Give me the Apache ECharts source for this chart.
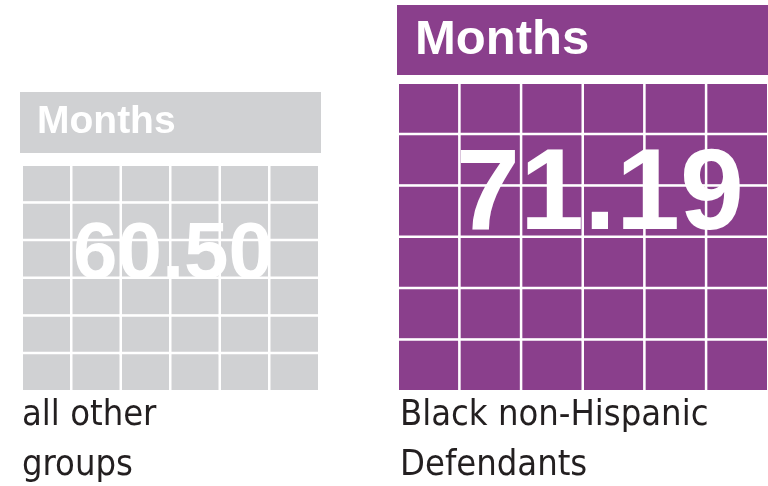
<!DOCTYPE html>
<html>
<head>
<meta charset="utf-8">
<title>Months</title>
<script src="https://cdn.jsdelivr.net/npm/echarts@6/dist/echarts.min.js"></script>
<style>
    html, body { margin: 0; padding: 0; background: #fff; }
    #months_chart { width: 768px; height: 486px; }
</style>
</head>
<body>
<div id="months_chart"></div>
<script>

// Chart data
// ------------------------------

var groupLabels = ['all other\ngroups', 'Black non-Hispanic\nDefendants'];
var groupMonths = ['60.50', '71.19'];
var headerText = 'Months';

// Calendar cells (columns x rows) for each panel
var gridColumns = ['c1', 'c2', 'c3', 'c4', 'c5', 'c6'];
var gridRows = ['r1', 'r2', 'r3', 'r4', 'r5', 'r6'];


// Setup module
// ------------------------------

var MonthsChart = function() {

    var _monthsChart = function() {
        if (typeof echarts == 'undefined') {
            console.warn('Warning - echarts.min.js is not loaded.');
            return;
        }

        var chart_element = document.getElementById('months_chart');
        if (!chart_element) return;

        var chart = echarts.init(chart_element, null, { renderer: 'canvas' });

        var colors = ['#d0d1d3', '#8a3f8c'];
        var textColor = '#231f20';

        // Build cell list from the column / row categories
        var cells = [];
        gridColumns.forEach(function(c, i) {
            gridRows.forEach(function(r, j) {
                cells.push([i, j, 1]);
            });
        });

        // Panel geometry: grid box, header box and number placement
        var panels = [
            { grid: { left: 22, top: 165, width: 297, height: 226 },
              header: { left: 20, top: 92, width: 284, height: 61, pad: 17, size: 39 },
              number: { x: 173, top: 216, size: 80 },
              label: { left: 22 } },
            { grid: { left: 398, top: 83, width: 387, height: 308 },
              header: { left: 397, top: 5, width: 360, height: 70, pad: 18, size: 49 },
              number: { x: 600, top: 140, size: 115 },
              label: { left: 400 } }
        ];

        var grids = [], xAxes = [], yAxes = [], series = [], titles = [];

        panels.forEach(function(p, k) {
            grids.push(p.grid);

            xAxes.push({
                type: 'category',
                gridIndex: k,
                data: gridColumns,
                show: false
            });
            yAxes.push({
                type: 'category',
                gridIndex: k,
                data: gridRows,
                inverse: true,
                show: false
            });

            // Calendar cells
            series.push({
                type: 'heatmap',
                xAxisIndex: k,
                yAxisIndex: k,
                data: cells,
                silent: true,
                itemStyle: {
                    color: colors[k],
                    borderColor: '#ffffff',
                    borderWidth: 2.5
                },
                z: 1
            });

            // Header bar
            titles.push({
                text: headerText,
                left: p.header.left,
                top: p.header.top,
                padding: [0, 0, 0, p.header.pad],
                backgroundColor: colors[k],
                textStyle: {
                    color: '#ffffff',
                    fontFamily: '"Liberation Sans", Arial, sans-serif',
                    fontWeight: 'bold',
                    fontSize: p.header.size,
                    width: p.header.width,
                    height: p.header.height,
                    lineHeight: p.header.height
                }
            });

            // Big month figure
            titles.push({
                text: groupMonths[k],
                left: p.number.x,
                top: p.number.top,
                textAlign: 'center',
                padding: 0,
                textStyle: {
                    color: '#ffffff',
                    fontFamily: '"Liberation Sans", Arial, sans-serif',
                    fontWeight: 'bold',
                    fontSize: p.number.size,
                    lineHeight: p.number.size
                },
                z: 10
            });

            // Group label below the panel
            titles.push({
                text: groupLabels[k],
                left: p.label.left,
                top: 391,
                padding: 0,
                textStyle: {
                    color: textColor,
                    fontFamily: '"DejaVu Sans Condensed", "Liberation Sans Narrow", sans-serif',
                    fontWeight: 'normal',
                    fontSize: 36,
                    lineHeight: 50
                }
            });
        });

        chart.setOption({
            animation: false,
            title: titles,
            grid: grids,
            xAxis: xAxes,
            yAxis: yAxes,
            series: series
        });
    };

    return {
        init: function() {
            _monthsChart();
        }
    }
}();


// Initialize module
// ------------------------------

document.addEventListener('DOMContentLoaded', function() {
    MonthsChart.init();
});
</script>
</body>
</html>
